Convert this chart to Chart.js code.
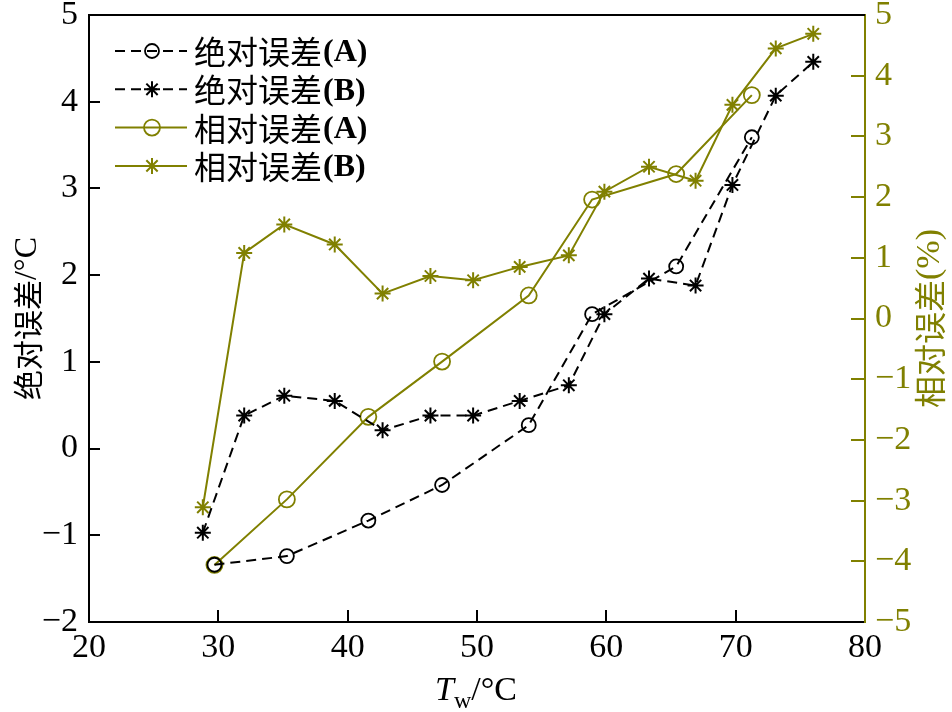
<!DOCTYPE html>
<html>
<head>
<meta charset="utf-8">
<script src="https://cdn.jsdelivr.net/npm/chart.js@4.4.1/dist/chart.umd.min.js"></script>
<style>
  html, body { margin: 0; padding: 0; background: #fff; }
  #grafico { display: block; }
</style>
</head>
<body>
<canvas id="grafico" width="952" height="712"></canvas>
<script>
// colores
const OLIVA = '#808000';
const NEGRO = '#000000';

// datos
const tempA = [29.7, 35.3, 41.6, 47.3, 54.0, 58.9, 65.4, 71.25];
const absolutoA = [-1.34, -1.24, -0.83, -0.42, 0.27, 1.55, 2.10, 3.59];
const relativoA = [-4.06, -2.98, -1.62, -0.71, 0.38, 1.96, 2.38, 3.68];

const tempB = [28.8, 32.0, 35.1, 39.0, 42.7, 46.4, 49.7, 53.3, 57.1, 59.85, 63.3, 66.9, 69.75, 73.1, 76.0];
const absolutoB = [-0.97, 0.38, 0.61, 0.55, 0.21, 0.38, 0.38, 0.55, 0.73, 1.55, 1.96, 1.88, 3.04, 4.07, 4.46];
const relativoB = [-3.11, 1.08, 1.55, 1.22, 0.41, 0.70, 0.63, 0.85, 1.04, 2.09, 2.50, 2.27, 3.52, 4.45, 4.69];

// marcas de los ejes
const ticksX = [20, 30, 40, 50, 60, 70, 80];
const ticksIzq = [-2, -1, 0, 1, 2, 3, 4, 5];
const ticksDer = [-5, -4, -3, -2, -1, 0, 1, 2, 3, 4, 5];

const etiquetas = ['绝对误差(A)', '绝对误差(B)', '相对误差(A)', '相对误差(B)'];

const SERIF = "'Liberation Serif', 'Times New Roman', serif";
const CJK = "'Noto Sans CJK SC', sans-serif";

const puntos = (xs, ys) => xs.map((x, i) => ({ x: x, y: ys[i] }));
const fmt = v => (v < 0 ? '\u2212' + Math.abs(v) : String(v));
const fijarTicks = lista => scale => { scale.ticks = lista.map(v => ({ value: v })); };

// texto con partes en distintas fuentes, centrado en (x, y)
function textoMixto(ctx, partes, x, y) {
  let total = 0;
  partes.forEach(p => { ctx.font = p.font; total += ctx.measureText(p.t).width; });
  let cx = x - total / 2;
  partes.forEach(p => {
    ctx.font = p.font;
    ctx.fillText(p.t, cx, y + (p.dy || 0));
    cx += ctx.measureText(p.t).width;
  });
}

// marcas hacia adentro, borde superior, titulos y leyenda
const decoracion = {
  id: 'decoracion',
  afterDraw(chart) {
    const ctx = chart.ctx;
    const a = chart.chartArea;
    const sx = chart.scales.x, sy = chart.scales.y, sy2 = chart.scales.y2;
    ctx.save();

    ctx.lineWidth = 2;
    ctx.strokeStyle = NEGRO;
    ctx.beginPath();
    ctx.moveTo(a.left - 1, a.top);
    ctx.lineTo(a.right, a.top);
    ctx.stroke();

    ticksX.slice(1, -1).forEach(v => {
      const px = Math.round(sx.getPixelForValue(v));
      ctx.beginPath(); ctx.moveTo(px, a.bottom); ctx.lineTo(px, a.bottom - 12); ctx.stroke();
    });
    ticksIzq.slice(1, -1).forEach(v => {
      const py = Math.round(sy.getPixelForValue(v));
      ctx.beginPath(); ctx.moveTo(a.left, py); ctx.lineTo(a.left + 11, py); ctx.stroke();
    });
    ctx.strokeStyle = OLIVA;
    ticksDer.slice(1, -1).forEach(v => {
      const py = Math.round(sy2.getPixelForValue(v));
      ctx.beginPath(); ctx.moveTo(a.right, py); ctx.lineTo(a.right - 14, py); ctx.stroke();
    });

    // titulos de ejes
    ctx.textBaseline = 'middle';
    ctx.textAlign = 'left';
    ctx.fillStyle = NEGRO;
    ctx.save();
    ctx.translate(28, (a.top + a.bottom) / 2);
    ctx.rotate(-Math.PI / 2);
    textoMixto(ctx, [
      { t: '绝对误差', font: '30px ' + CJK },
      { t: '/°C', font: '32px ' + SERIF }
    ], 0, 0);
    ctx.restore();

    ctx.fillStyle = OLIVA;
    ctx.save();
    ctx.translate(930, (a.top + a.bottom) / 2);
    ctx.rotate(-Math.PI / 2);
    textoMixto(ctx, [
      { t: '相对误差', font: '32px ' + CJK },
      { t: '(%)', font: '34px ' + SERIF }
    ], 0, 0);
    ctx.restore();

    ctx.fillStyle = NEGRO;
    ctx.textBaseline = 'alphabetic';
    textoMixto(ctx, [
      { t: 'T', font: 'italic 34px ' + SERIF },
      { t: 'w', font: '24px ' + SERIF, dy: 8 },
      { t: '/°C', font: '34px ' + SERIF }
    ], 476, 700);

    // leyenda
    chart.data.datasets.forEach((ds, i) => {
      const y = 51 + i * 38.3;
      ctx.save();
      ctx.strokeStyle = ds.borderColor;
      ctx.lineWidth = ds.borderWidth;
      ctx.setLineDash(ds.borderDash || []);
      ctx.beginPath(); ctx.moveTo(115, y); ctx.lineTo(187, y); ctx.stroke();
      ctx.setLineDash([]);
      ctx.strokeStyle = ds.pointBorderColor;
      ctx.fillStyle = 'rgba(0,0,0,0)';
      ctx.lineWidth = ds.pointBorderWidth;
      Chart.helpers.drawPoint(ctx, {
        pointStyle: ds.pointStyle, radius: ds.pointRadius, rotation: 0, borderWidth: ds.pointBorderWidth
      }, 152, y);
      ctx.restore();

      const m = ds.label.match(/^(.*?)(\(.*\))$/);
      ctx.fillStyle = NEGRO;
      ctx.textBaseline = 'middle';
      ctx.textAlign = 'left';
      ctx.font = '32px ' + CJK;
      ctx.fillText(m[1], 194, y + 1);
      const w = ctx.measureText(m[1]).width;
      ctx.font = 'bold 32px ' + SERIF;
      ctx.fillText(m[2], 194 + w + 1, y + 2);
    });

    ctx.restore();
  }
};

const serie = (label, xs, ys, color, estilo, radio, eje, guiones) => ({
  label: label,
  data: puntos(xs, ys),
  yAxisID: eje,
  borderColor: color,
  borderWidth: 2,
  borderDash: guiones,
  pointStyle: estilo,
  pointRadius: radio,
  pointHoverRadius: radio,
  pointBorderColor: color,
  pointBorderWidth: estilo === 'star' ? 2 : 1.8,
  pointBackgroundColor: 'rgba(0,0,0,0)',
  tension: 0,
  fill: false
});

const fuenteTicks = { family: SERIF, size: 34 };

// ejes verticales sin relleno extra arriba/abajo
const ajusteVertical = ancho => s => {
  s.width = ancho;
  s.paddingTop = 0;
  s.paddingBottom = 0;
};

new Chart(document.getElementById('grafico'), {
  type: 'line',
  data: {
    datasets: [
      serie(etiquetas[0], tempA, absolutoA, NEGRO, 'circle', 7, 'y', [10, 6]),
      serie(etiquetas[1], tempB, absolutoB, NEGRO, 'star', 8, 'y', [10, 6]),
      serie(etiquetas[2], tempA, relativoA, OLIVA, 'circle', 8, 'y2', []),
      serie(etiquetas[3], tempB, relativoB, OLIVA, 'star', 8, 'y2', [])
    ]
  },
  options: {
    responsive: false,
    animation: false,
    layout: { padding: { top: 15, left: 0, right: 0, bottom: 0 } },
    plugins: { legend: { display: false }, tooltip: { enabled: false } },
    scales: {
      x: {
        type: 'linear', min: 20, max: 80,
        afterBuildTicks: fijarTicks(ticksX),
        afterFit: s => { s.height = 90; s.paddingLeft = 0; s.paddingRight = 0; },
        grid: { display: true, drawOnChartArea: false, drawTicks: false },
        border: { display: true, color: NEGRO, width: 2 },
        ticks: { color: NEGRO, font: fuenteTicks, padding: 6, maxRotation: 0, callback: fmt }
      },
      y: {
        position: 'left', min: -2, max: 5,
        afterBuildTicks: fijarTicks(ticksIzq),
        afterFit: ajusteVertical(89),
        grid: { display: true, drawOnChartArea: false, drawTicks: false },
        border: { display: true, color: NEGRO, width: 2 },
        ticks: { color: NEGRO, font: fuenteTicks, padding: 11, callback: fmt }
      },
      y2: {
        position: 'right', min: -5, max: 5,
        afterBuildTicks: fijarTicks(ticksDer),
        afterFit: ajusteVertical(87),
        grid: { display: true, drawOnChartArea: false, drawTicks: false },
        border: { display: true, color: OLIVA, width: 2 },
        ticks: { color: OLIVA, font: fuenteTicks, padding: 10, callback: fmt }
      }
    }
  },
  plugins: [decoracion]
});
</script>
</body>
</html>
